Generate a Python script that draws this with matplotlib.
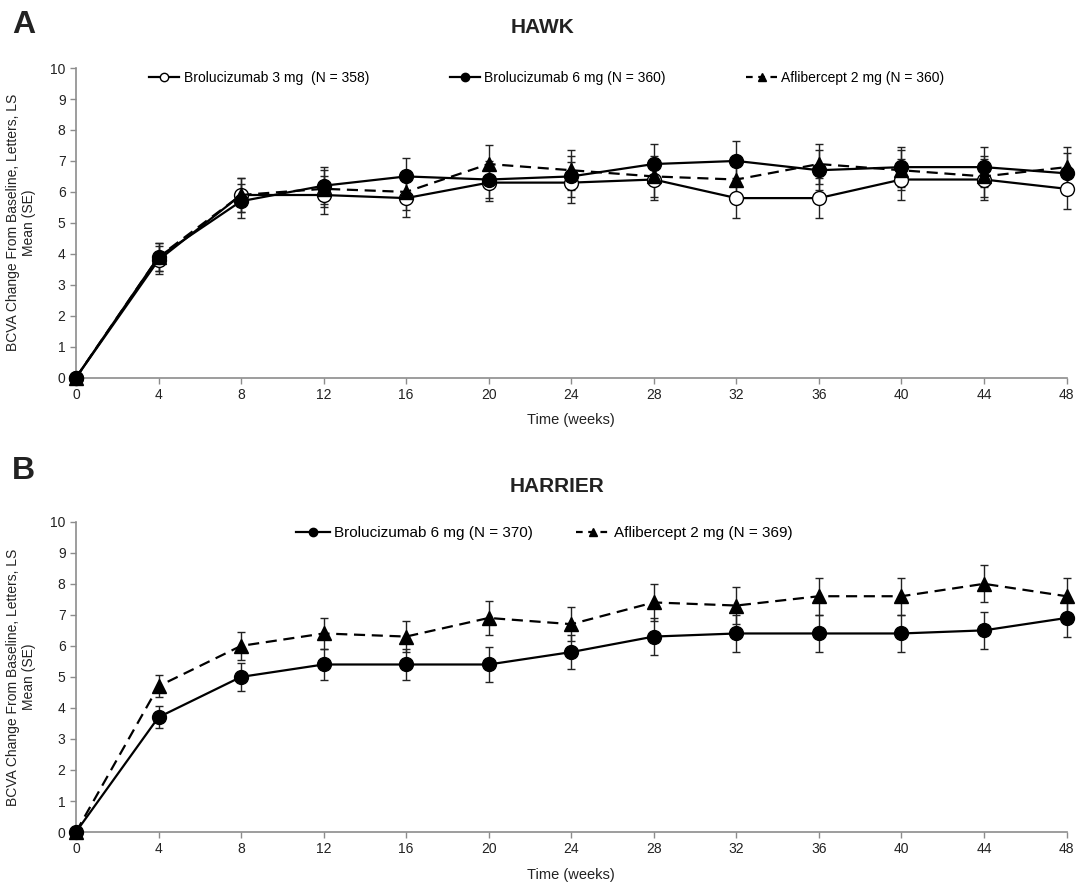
import matplotlib.pyplot as plt
from matplotlib.lines import Line2D

plt.rcParams['font.family'] = ['Liberation Sans', 'DejaVu Sans']

weeks = [0, 4, 8, 12, 16, 20, 24, 28, 32, 36, 40, 44, 48]

# HAWK
hawk_bro3 = [0, 3.8, 5.9, 5.9, 5.8, 6.3, 6.3, 6.4, 5.8, 5.8, 6.4, 6.4, 6.1]
hawk_bro3_se = [0, 0.45, 0.55, 0.6, 0.6, 0.6, 0.65, 0.65, 0.65, 0.65, 0.65, 0.65, 0.65]
hawk_bro6 = [0, 3.9, 5.7, 6.2, 6.5, 6.4, 6.5, 6.9, 7.0, 6.7, 6.8, 6.8, 6.6]
hawk_bro6_se = [0, 0.45, 0.55, 0.6, 0.6, 0.6, 0.65, 0.65, 0.65, 0.65, 0.65, 0.65, 0.65]
hawk_afl = [0, 3.9, 5.9, 6.1, 6.0, 6.9, 6.7, 6.5, 6.4, 6.9, 6.7, 6.5, 6.8]
hawk_afl_se = [0, 0.45, 0.55, 0.6, 0.6, 0.6, 0.65, 0.65, 0.65, 0.65, 0.65, 0.65, 0.65]

# HARRIER
harr_bro6 = [0, 3.7, 5.0, 5.4, 5.4, 5.4, 5.8, 6.3, 6.4, 6.4, 6.4, 6.5, 6.9]
harr_bro6_se = [0, 0.35, 0.45, 0.5, 0.5, 0.55, 0.55, 0.6, 0.6, 0.6, 0.6, 0.6, 0.6]
harr_afl = [0, 4.7, 6.0, 6.4, 6.3, 6.9, 6.7, 7.4, 7.3, 7.6, 7.6, 8.0, 7.6]
harr_afl_se = [0, 0.35, 0.45, 0.5, 0.5, 0.55, 0.55, 0.6, 0.6, 0.6, 0.6, 0.6, 0.6]

ylabel = 'BCVA Change From Baseline, Letters, LS\nMean (SE)'
spine_col = '#8c8c8c'
txt_col = '#222222'

fig = plt.figure(figsize=(10.85, 8.86), dpi=100)
axA = fig.add_axes([0.070, 0.5737, 0.913, 0.3495])
axB = fig.add_axes([0.070, 0.0609, 0.913, 0.3502])


def series(ax, y, se, marker, ls, mfc):
    ax.errorbar(weeks, y, yerr=se, color='black', ls=ls, lw=1.6,
                marker=marker, ms=10, mfc=mfc, mec='black', mew=1,
                ecolor='#222222', elinewidth=1, capsize=3, capthick=1,
                clip_on=False, zorder=3,
                dashes=(5, 3) if ls == '--' else (None, None))


def handle(marker, ls, mfc):
    h = Line2D([], [], color='black', ls=ls, lw=1.6, marker=marker, ms=6,
               mfc=mfc, mec='black', mew=1)
    if ls == '--':
        h.set_dashes((3, 2.5))
    return h


def style(ax):
    ax.set_xlim(0, 48)
    ax.set_ylim(0, 10)
    ax.set_xticks(weeks)
    ax.set_yticks(range(0, 11))
    for s in ['top', 'right']:
        ax.spines[s].set_visible(False)
    for s in ['left', 'bottom']:
        ax.spines[s].set_color(spine_col)
        ax.spines[s].set_linewidth(1.2)
    ax.tick_params(colors=spine_col, labelcolor=txt_col, labelsize=10,
                   length=4, width=1, direction='out')
    ax.set_xlabel('Time (weeks)', fontsize=10.5, color=txt_col, labelpad=8)
    ax.set_ylabel(ylabel, fontsize=10, color=txt_col, labelpad=10)


series(axA, hawk_bro3, hawk_bro3_se, 'o', '-', 'white')
series(axA, hawk_bro6, hawk_bro6_se, 'o', '-', 'black')
series(axA, hawk_afl, hawk_afl_se, '^', '--', 'black')
style(axA)
axA.legend([handle('o', '-', 'white'), handle('o', '-', 'black'), handle('^', '--', 'black')],
           ['Brolucizumab 3 mg  (N = 358)', 'Brolucizumab 6 mg (N = 360)',
            'Aflibercept 2 mg (N = 360)'],
           loc='upper center', bbox_to_anchor=(0.475, 1.03), ncol=3,
           frameon=False, fontsize=10, handlelength=2.2,
           columnspacing=5.8, handletextpad=0.3)

series(axB, harr_bro6, harr_bro6_se, 'o', '-', 'black')
series(axB, harr_afl, harr_afl_se, '^', '--', 'black')
style(axB)
axB.legend([handle('o', '-', 'black'), handle('^', '--', 'black')],
           ['Brolucizumab 6 mg (N = 370)', 'Aflibercept 2 mg (N = 369)'],
           loc='upper center', bbox_to_anchor=(0.473, 1.03), ncol=2,
           frameon=False, fontsize=11, handlelength=2.2,
           columnspacing=2.8, handletextpad=0.3)

fig.text(0.011, 0.972, 'A', fontsize=23, fontweight='bold', color=txt_col, va='center')
fig.text(0.500, 0.969, 'HAWK', fontsize=15, fontweight='bold', color=txt_col,
         ha='center', va='center')
fig.text(0.011, 0.468, 'B', fontsize=23, fontweight='bold', color=txt_col, va='center')
fig.text(0.513, 0.451, 'HARRIER', fontsize=15, fontweight='bold', color=txt_col,
         ha='center', va='center')

fig.savefig('out.png', dpi=100)
